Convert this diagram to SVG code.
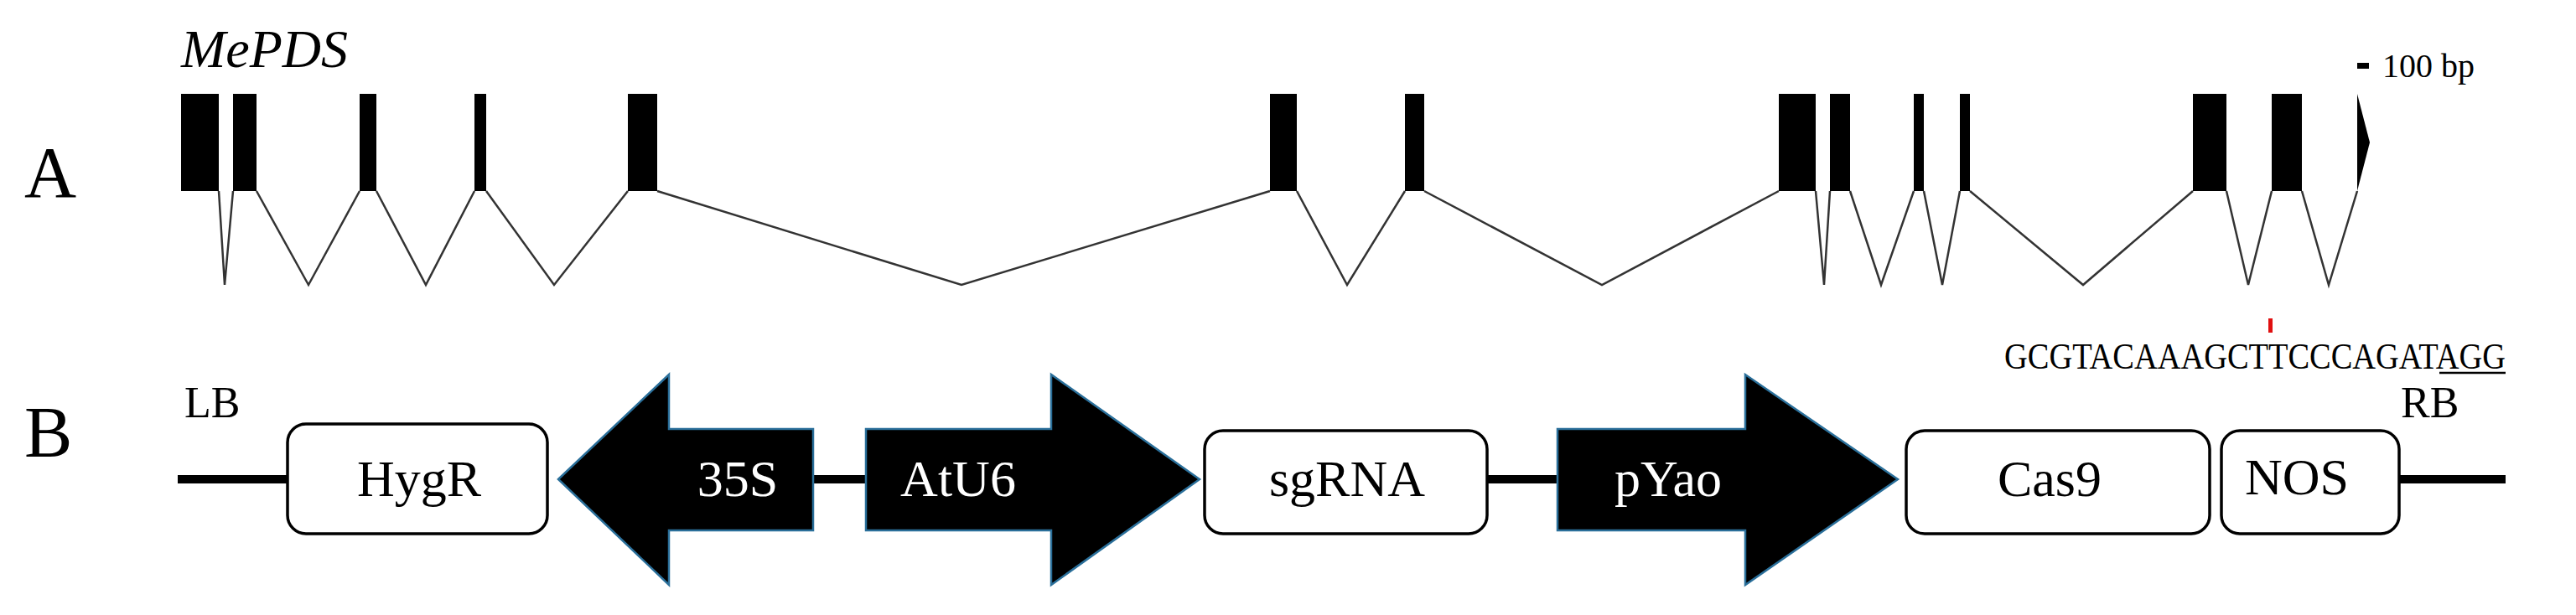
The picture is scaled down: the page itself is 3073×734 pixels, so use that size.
<svg xmlns="http://www.w3.org/2000/svg" width="3073" height="734" viewBox="0 0 3073 734">
<style>
text{font-family:"Liberation Serif","Times New Roman",serif;fill:#000}
.ex{fill:#000}
.in{fill:none;stroke:#333;stroke-width:2.5}
.box{fill:#fff;stroke:#000;stroke-width:3.5}
.arr{fill:#000;stroke:#2a6f9a;stroke-width:2.5}
.bb{stroke:#000;stroke-width:10}
.lbl{font-size:62px;text-anchor:middle}
.w{fill:#fff}
</style>
<rect width="3073" height="734" fill="#fff"/>
<text x="29" y="235" font-size="86">A</text>
<text x="216" y="80" font-size="64" font-style="italic">MePDS</text>
<g id="exons">
<rect class="ex" x="216" y="112" width="45" height="116"/>
<rect class="ex" x="278" y="112" width="28" height="116"/>
<rect class="ex" x="429" y="112" width="20" height="116"/>
<rect class="ex" x="566" y="112" width="14" height="116"/>
<rect class="ex" x="749" y="112" width="35" height="116"/>
<rect class="ex" x="1515" y="112" width="32" height="116"/>
<rect class="ex" x="1676" y="112" width="23" height="116"/>
<rect class="ex" x="2122" y="112" width="44" height="116"/>
<rect class="ex" x="2183" y="112" width="24" height="116"/>
<rect class="ex" x="2283" y="112" width="12" height="116"/>
<rect class="ex" x="2338" y="112" width="12" height="116"/>
<rect class="ex" x="2616" y="112" width="40" height="116"/>
<rect class="ex" x="2710" y="112" width="36" height="116"/>
<polygon class="ex" points="2812,112 2827,170 2812,228"/>
</g>
<g id="connectors">
<polyline class="in" points="261,228 268,340 278,228"/>
<polyline class="in" points="306,228 368,340 429,228"/>
<polyline class="in" points="449,228 508,340 566,228"/>
<polyline class="in" points="580,228 661,340 749,228"/>
<polyline class="in" points="784,228 1147,340 1515,228"/>
<polyline class="in" points="1547,228 1607,340 1676,228"/>
<polyline class="in" points="1699,228 1911,340 2122,228"/>
<polyline class="in" points="2166,228 2176,340 2183,228"/>
<polyline class="in" points="2207,228 2244,340 2283,228"/>
<polyline class="in" points="2295,228 2317,340 2338,228"/>
<polyline class="in" points="2350,228 2485,340 2616,228"/>
<polyline class="in" points="2656,228 2682,340 2710,228"/>
<polyline class="in" points="2746,228 2778,340 2812,228"/>
<line class="bb" x1="212" y1="572" x2="343" y2="572"/>
<line class="bb" x1="970" y1="572" x2="1033" y2="572"/>
<line class="bb" x1="1774" y1="572" x2="1858" y2="572"/>
<line class="bb" x1="2862" y1="572" x2="2989" y2="572"/>
</g>
<rect x="2812" y="75" width="14" height="7" fill="#000"/>
<text x="2842" y="92" font-size="40">100 bp</text>
<rect x="2706" y="380" width="5" height="17" fill="#e01010"/>
<text x="2391" y="440" font-size="44" textLength="598" lengthAdjust="spacingAndGlyphs">GCGTACAAAGCTTCCCAGATAGG</text>
<line x1="2910" y1="445" x2="2989" y2="445" stroke="#000" stroke-width="2.5"/>
<text x="29" y="545" font-size="86">B</text>
<text x="220" y="498" font-size="52">LB</text>
<text x="2864" y="498" font-size="52">RB</text>
<g id="HygR"><rect class="box" x="343" y="506" width="310" height="131" rx="22"/><text class="lbl" x="500" y="592">HygR</text></g>
<g id="p35S"><polygon class="arr" points="666,572 798,447 798,512 970,512 970,633 798,633 798,698"/><text class="lbl w" x="880" y="592">35S</text></g>
<g id="AtU6"><polygon class="arr" points="1033,512 1254,512 1254,447 1431,572 1254,698 1254,633 1033,633"/><text class="lbl w" x="1143" y="592">AtU6</text></g>
<g id="sgRNA"><rect class="box" x="1437" y="514" width="337" height="123" rx="22"/><text class="lbl" x="1607" y="592">sgRNA</text></g>
<g id="pYao"><polygon class="arr" points="1858,512 2082,512 2082,447 2264,572 2082,698 2082,633 1858,633"/><text class="lbl w" x="1990" y="592">pYao</text></g>
<g id="Cas9"><rect class="box" x="2274" y="514" width="362" height="123" rx="22"/><text class="lbl" x="2445" y="592">Cas9</text></g>
<g id="NOS"><rect class="box" x="2650" y="514" width="212" height="123" rx="22"/><text class="lbl" x="2740" y="590" font-size="40">NOS</text></g>
</svg>
